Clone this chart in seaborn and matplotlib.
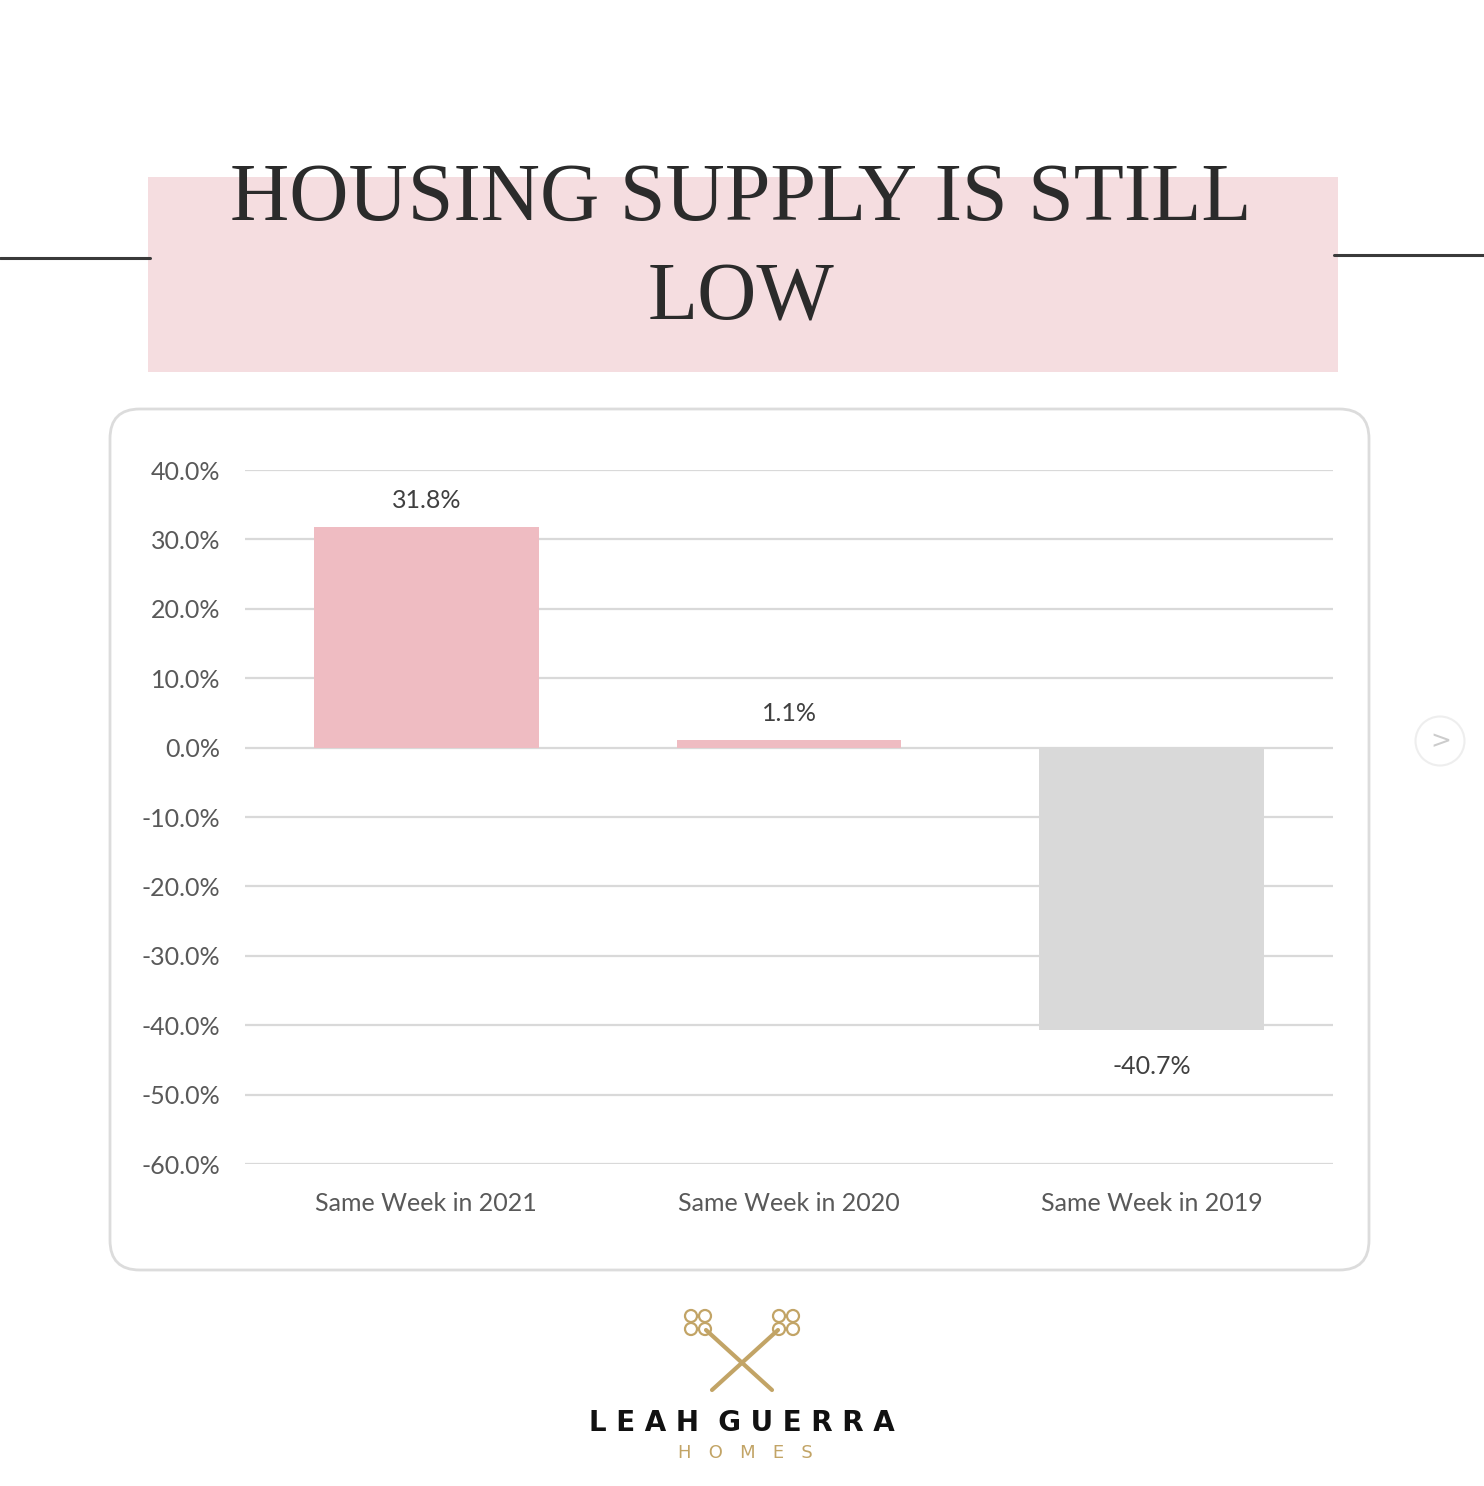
import numpy as np
import pandas as pd
import seaborn as sns
import matplotlib.pyplot as plt
from matplotlib.patches import FancyBboxPatch, Rectangle, Circle
from matplotlib.lines import Line2D
from matplotlib.ticker import FuncFormatter

# data
categories = ["Same Week in 2021", "Same Week in 2020", "Same Week in 2019"]
change_pct = [31.8, 1.1, -40.7]
bar_colors = ["#efbcc2", "#efbcc2", "#d9d9d9"]
yticks = [40, 30, 20, 10, 0, -10, -20, -30, -40, -50, -60]

df = pd.DataFrame({"week": categories, "change": change_pct})

sns.set_theme(style="white")
plt.rcParams["font.family"] = ["Lato", "DejaVu Sans"]

W, H = 1484, 1486
fig = plt.figure(figsize=(W / 100, H / 100), dpi=100)
fig.patch.set_facecolor("white")


def fx(px):
    return px / W


def fy(py):
    return 1 - py / H


# header: lines + pink box + title
fig.add_artist(Line2D([fx(0), fx(150)], [fy(258), fy(258)], color="#3a3a3a", lw=2.2))
fig.add_artist(Line2D([fx(1334), fx(1484)], [fy(255), fy(255)], color="#3a3a3a", lw=2.2))
fig.add_artist(Rectangle((fx(148), fy(372)), fx(1338) - fx(148), fy(177) - fy(372),
                         facecolor="#f5dde0", edgecolor="none", zorder=-5))
fig.text(fx(741), fy(200), "HOUSING SUPPLY IS STILL", ha="center", va="center",
         fontsize=59, color="#2b2b2b", family="Liberation Serif")
fig.text(fx(741), fy(300), "LOW", ha="center", va="center",
         fontsize=59, color="#2b2b2b", family="Liberation Serif")

# rounded chart panel (behind the axes)
fig.add_artist(FancyBboxPatch((fx(110), fy(1270)), fx(1369) - fx(110), fy(409) - fy(1270),
                              boxstyle="round,pad=0,rounding_size=0.02",
                              facecolor="white", edgecolor="#dcdcdc", lw=2, zorder=-5))

# chart
ax = fig.add_axes([fx(245), fy(1164), fx(1333) - fx(245), fy(470) - fy(1164)])
ax.set_zorder(2)
ax.set_facecolor("none")
sns.barplot(data=df, x="week", y="change", hue="week", palette=bar_colors,
            saturation=1, width=0.62, linewidth=0, legend=False, ax=ax, zorder=3)
ax.set_xlim(-0.5, 2.5)
ax.set_ylim(-60, 40)
ax.set_yticks(yticks)
ax.yaxis.set_major_formatter(FuncFormatter(lambda v, _: f"{v:.1f}%"))
ax.grid(axis="y", color="#d9d9d9", lw=1.6, zorder=0)
ax.set_axisbelow(True)
for s in ax.spines.values():
    s.set_visible(False)
ax.set_xlabel("")
ax.set_ylabel("")
ax.tick_params(axis="y", length=0, pad=18, labelsize=18, labelcolor="#595959")
ax.tick_params(axis="x", length=0, pad=20, labelsize=18, labelcolor="#595959")

for cont in ax.containers:
    vals = cont.datavalues
    pad = 18 if vals.min() < 0 else 11
    ax.bar_label(cont, labels=[f"{v:.1f}%" for v in vals],
                 padding=pad, fontsize=18, color="#404040")

# next arrow on the right edge
fig.add_artist(Circle((fx(1440), fy(741)), 0.0165, transform=fig.transFigure,
                      facecolor="white", edgecolor="#eeeeee", lw=1.5))
fig.text(fx(1441), fy(741), ">", ha="center", va="center", fontsize=18,
         color="#cccccc", family="DejaVu Sans")

# logo (simple crossed keys + wordmark)
gold = "#c2a466"
kx = 742
for sgn in (-1, 1):
    fig.add_artist(Line2D([fx(kx - sgn * 36), fx(kx + sgn * 30)], [fy(1330), fy(1390)],
                          color=gold, lw=3))
    for dx, dy, r in [(-7, -6, 6), (7, -6, 6), (-7, 7, 6), (7, 7, 6)]:
        fig.add_artist(Circle((fx(kx - sgn * 44 + dx), fy(1322 + dy)), r / W,
                              transform=fig.transFigure, facecolor="none",
                              edgecolor=gold, lw=1.6))
fig.text(fx(742), fy(1423), "L E A H  G U E R R A", ha="center", va="center",
         fontsize=20, color="#111111", family="DejaVu Sans", weight="bold")
fig.text(fx(745), fy(1453), "H   O   M   E   S", ha="center", va="center",
         fontsize=13, color=gold, family="DejaVu Sans")

fig.savefig("out.png", dpi=100)
